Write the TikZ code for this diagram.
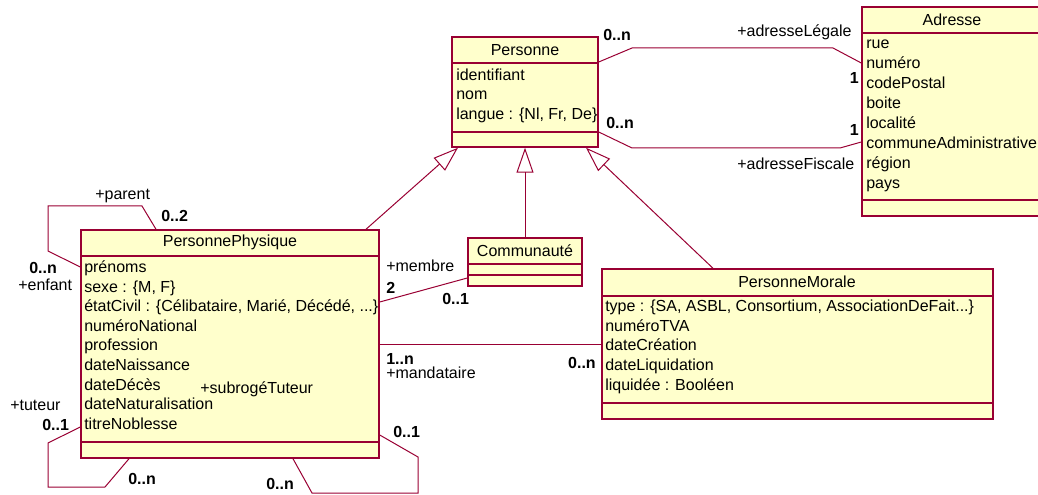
\documentclass[tikz,border=0pt]{standalone}
\usepackage{fontspec}
\setmainfont{Liberation Sans}
\usepackage{tikz}
\usetikzlibrary{arrows.meta, fit}
\definecolor{umlred}{RGB}{153,0,51}
\definecolor{umlfill}{RGB}{255,255,204}
\newcommand{\threedots}{...}

\begin{document}
\begin{tikzpicture}[x=0.75pt,y=0.75pt,yscale=-1,xscale=1,
  every node/.style={font=\fontsize{12}{14.7}\selectfont},
  classbox/.style={draw=umlred, fill=umlfill, line width=1.1pt, inner sep=0pt},
  sepline/.style={draw=umlred, line width=0.9pt},
  ctitle/.style={anchor=base, inner sep=0pt},
  attr/.style={anchor=base west, inner sep=0pt},
  role/.style={anchor=west, inner sep=0pt},
  mult/.style={anchor=west, inner sep=0pt, font=\fontsize{12}{14.7}\selectfont\bfseries},
  assoc/.style={draw=umlred, line width=0.75pt},
  gen/.style={draw=umlred, line width=0.75pt, -{Triangle[open, length=18.75pt, width=12.75pt]}}
]
\useasboundingbox (0,0) rectangle (1038,495);

% Class Personne
\node [classbox, fit={(452,37) (598,147)}] (personne) {};
\draw [sepline] (personne.west |- 0,63) -- (personne.east |- 0,63);
\draw [sepline] (personne.west |- 0,132) -- (personne.east |- 0,132);
\node [ctitle] (personne-t) at (525,56) {Personne};
\foreach \a [count=\i] in {identifiant, nom, {langue : \{Nl, Fr, De\}}}
  \node [attr] (personne-\i) at (456,{80.5+19.5*(\i-1)}) {\a};

% Class Adresse
\node [classbox, fit={(862,7) (1042,216)}] (adresse) {};
\draw [sepline] (adresse.west |- 0,33) -- (adresse.east |- 0,33);
\draw [sepline] (adresse.west |- 0,200) -- (adresse.east |- 0,200);
\node [ctitle] (adresse-t) at (952,26) {Adresse};
\foreach \a [count=\i] in {rue, numéro, codePostal, boite, localité, communeAdministrative, région, pays}
  \node [attr] (adresse-\i) at (866,{49+19.9*(\i-1)}) {\a};

% Class PersonnePhysique
\node [classbox, fit={(81,230) (379,458)}] (pp) {};
\draw [sepline] (pp.west |- 0,256) -- (pp.east |- 0,256);
\draw [sepline] (pp.west |- 0,442) -- (pp.east |- 0,442);
\node [ctitle] (pp-t) at (230,247) {PersonnePhysique};
\foreach \a [count=\i] in {prénoms, {sexe : \{M, F\}}, {étatCivil : \{Célibataire, Marié, Décédé, \threedots\}}, numéroNational, profession, dateNaissance, dateDécès, dateNaturalisation, titreNoblesse}
  \node [attr] (pp-\i) at (84,{272.5+19.6*(\i-1)}) {\a};

% Class Communauté
\node [classbox, fit={(468,238) (582,286)}] (communaute) {};
\draw [sepline] (communaute.west |- 0,264) -- (communaute.east |- 0,264);
\draw [sepline] (communaute.west |- 0,275) -- (communaute.east |- 0,275);
\node [ctitle] (communaute-t) at (525,257) {Communauté};

% Class PersonneMorale
\node [classbox, fit={(602,269) (993,419)}] (pm) {};
\draw [sepline] (pm.west |- 0,296) -- (pm.east |- 0,296);
\draw [sepline] (pm.west |- 0,403) -- (pm.east |- 0,403);
\node [ctitle] (pm-t) at (797,287) {PersonneMorale};
\foreach \a [count=\i] in {{type : \{SA, ASBL, Consortium, AssociationDeFait\threedots\}}, numéroTVA, dateCréation, dateLiquidation, {liquidée : Booléen}}
  \node [attr] (pm-\i) at (605,{311.5+19.7*(\i-1)}) {\a};

%Straight Lines (generalisation)
\draw [gen] (pp.north -| 366,0) -- (personne.south -| 458,0);
\draw [gen] (communaute.north) -- (personne.south -| 525,0);
\draw [gen] (pm.north -| 713,0) -- (personne.south -| 586,0);

%Straight Lines (associations)
\draw [assoc] (personne.east |- 0,62) -- (632,48) -- (833,48) -- (adresse.west |- 0,63);
\draw [assoc] (personne.east |- 0,132) -- (632,148) -- (840,148) -- (adresse.west |- 0,142);
\draw [assoc] (pp.east |- 0,302) -- (communaute.west |- 0,278);
\draw [assoc] (pp.east |- 0,344) -- (pm.west |- 0,344);
\draw [assoc] (pp.west |- 0,267) -- (48,251) -- (48,206) -- (142,206) -- (pp.north -| 156,0);
\draw [assoc] (pp.west |- 0,427) -- (48,443) -- (48,487) -- (105,487) -- (pp.south -| 129,0);
\draw [assoc] (pp.south -| 293,0) -- (312,493) -- (418,493) -- (418,457) -- (pp.east |- 0,435);

% Text Node
\node [mult] (m-legale-p) at (603,35) {0..n};
\node [role] (r-legale) at (737,32) {+adresseLégale};
\node [mult, anchor=east] (m-legale-a) at (859,78) {1};
\node [mult] (m-fiscale-p) at (606,123) {0..n};
\node [mult, anchor=east] (m-fiscale-a) at (859,130) {1};
\node [role] (r-fiscale) at (737,164) {+adresseFiscale};
% Text Node
\node [role] (r-parent) at (95,196) {+parent};
\node [mult] (m-parent) at (161,216) {0..2};
\node [mult] (m-enfant) at (29,268) {0..n};
\node [role] (r-enfant) at (18,285) {+enfant};
% Text Node
\node [role] (r-tuteur) at (10,405) {+tuteur};
\node [mult] (m-tuteur) at (42,425) {0..1};
\node [mult] (m-pupille) at (128,479) {0..n};
\node [role] (r-subroge) at (200,389) {+subrogéTuteur};
\node [mult] (m-subroge) at (393,432) {0..1};
\node [mult] (m-subpupille) at (266,484) {0..n};
% Text Node
\node [role] (r-membre) at (386,266) {+membre};
\node [mult] (m-membre) at (386,288) {2};
\node [mult] (m-communaute) at (442,299) {0..1};
\node [mult] (m-mandataire) at (386,359) {1..n};
\node [role] (r-mandataire) at (386,373) {+mandataire};
\node [mult, anchor=east] (m-mandant) at (596,363) {0..n};

\end{tikzpicture}
\end{document}
